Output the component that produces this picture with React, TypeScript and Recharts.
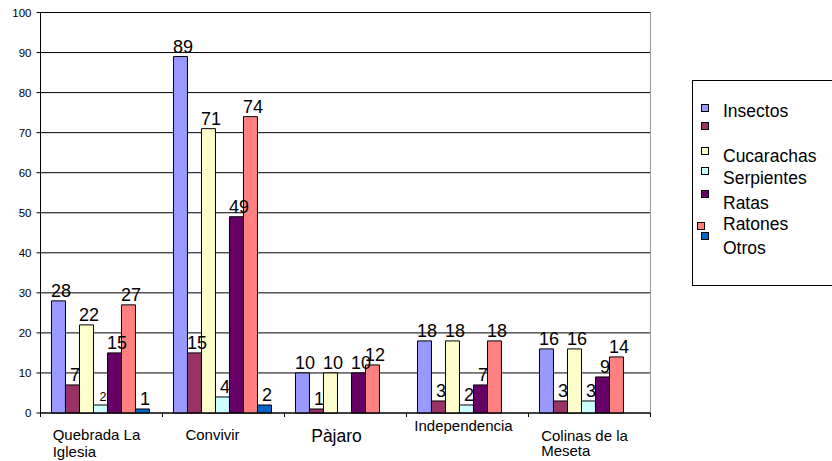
import React from "react";
import { BarChart, Bar, XAxis, YAxis, CartesianGrid, LabelList } from "recharts";

// ---------- data ----------
const categories = ["Quebrada La Iglesia", "Convivir", "Pàjaro", "Independencia", "Colinas de la Meseta"];
const seriesNames = ["Insectos", "", "Cucarachas", "Serpientes", "Ratas", "Ratones", "Otros"];
const insectos = [28, 89, 10, 18, 16];
const serie2 = [7, 15, 1, 3, 3];
const cucarachas = [22, 71, 10, 18, 16];
const serpientes = [2, 4, null, 2, 3];
const ratas = [15, 49, 10, 7, 9];
const ratones = [27, 74, 12, 18, 14];
const otros = [1, 2, null, null, null];
const yTicks = [0, 10, 20, 30, 40, 50, 60, 70, 80, 90, 100];

const seriesValues = [insectos, serie2, cucarachas, serpientes, ratas, ratones, otros];
const seriesColors = ["#9999FF", "#993366", "#FFFFCC", "#CCFFFF", "#660066", "#FF8080", "#0066CC"];

const data = categories.map((c, i) => {
  const row: any = { category: c };
  seriesValues.forEach((vals, s) => {
    row[`s${s}`] = vals[i];
  });
  return row;
});

// ---------- layout / style ----------
const FONT = '"Liberation Sans", Arial, sans-serif';
const W = 832;
const H = 461;
const M = { top: 12.5, right: 181.5, left: 0.5, bottom: 0 };
const Y_W = 40;
const X_H = 48;
const plotW = W - M.left - Y_W - M.right;
const step = plotW / categories.length;

const tickStyle: Record<string, { size: number; dx: number; dy: number; lh: number }> = {
  "Quebrada La Iglesia": { size: 15, dx: -5, dy: 26.5, lh: 17 },
  Convivir: { size: 15, dx: -11, dy: 26.5, lh: 17 },
  "Pàjaro": { size: 17.5, dx: -9, dy: 28.5, lh: 17 },
  Independencia: { size: 15, dx: -4, dy: 17.5, lh: 17 },
  "Colinas de la Meseta": { size: 15, dx: -5, dy: 27.5, lh: 15.5 },
};

// small label exceptions: series index -> category indices
const smallLabels: Record<number, number[]> = { 3: [0] };

let _ctx: CanvasRenderingContext2D | null = null;
function measure(text: string, size: number) {
  if (!_ctx) _ctx = document.createElement("canvas").getContext("2d");
  if (!_ctx) return text.length * size * 0.55;
  _ctx.font = `${size}px ${FONT}`;
  return _ctx.measureText(text).width;
}

function wrap(text: string, size: number, maxW: number) {
  const words = text.split(" ");
  const lines: string[] = [];
  let cur = "";
  words.forEach((w) => {
    const t = cur ? cur + " " + w : w;
    if (cur && measure(t, size) > maxW) {
      lines.push(cur);
      cur = w;
    } else cur = t;
  });
  if (cur) lines.push(cur);
  return lines;
}

const CategoryTick = (props: any) => {
  const { x, y, payload } = props;
  const index = props.index ?? payload.index;
  const st = tickStyle[payload.value] || { size: 15, dx: -6, dy: 26.5, lh: 17 };
  const lines = wrap(String(payload.value), st.size, 110);
  const block = Math.max(...lines.map((l) => measure(l, st.size)));
  const left = x + st.dx - block / 2;
  return (
    <g>
      <line x1={x - step / 2} x2={x - step / 2} y1={y} y2={y + 4} stroke="#000" />
      {index === categories.length - 1 && (
        <line x1={x + step / 2} x2={x + step / 2} y1={y} y2={y + 4} stroke="#000" />
      )}
      <text x={left} y={y + st.dy} fontSize={st.size} fontFamily={FONT} fill="#000" textAnchor="start">
        {lines.map((l, i) => (
          <tspan key={i} x={left} dy={i === 0 ? 0 : st.lh}>
            {l}
          </tspan>
        ))}
      </text>
    </g>
  );
};

const makeLabel = (s: number) => (props: any) => {
  const { x, y, width, value, index } = props;
  if (value == null) return null;
  const small = (smallLabels[s] || []).includes(index);
  return (
    <text
      x={x + width / 2 + 2.5}
      y={y - 4}
      textAnchor="middle"
      fontSize={small ? 12.5 : 18}
      fontFamily={FONT}
      fill="#000"
    >
      {value}
    </text>
  );
};

// legend rows layout (square centre y, text centre y, square x)
const legendRows = [
  { sq: 107, tx: 111, sx: 701 },
  { sq: 125.5, tx: 130, sx: 701 },
  { sq: 150.5, tx: 156, sx: 701 },
  { sq: 170.5, tx: 178, sx: 701 },
  { sq: 193.5, tx: 203, sx: 701 },
  { sq: 225.5, tx: 224, sx: 697 },
  { sq: 235.5, tx: 248, sx: 701 },
];

const Legend = () => (
  <svg
    width={W}
    height={H}
    style={{ position: "absolute", left: 0, top: 0, pointerEvents: "none" }}
  >
    <rect x={692.5} y={80.5} width={160} height={205} fill="#fff" stroke="#000" />
    {seriesNames.map((name, i) => {
      const r = legendRows[i];
      return (
        <g key={i}>
          <rect x={r.sx + 0.5} y={Math.round(r.sq - 3.5) + 0.5} width={7} height={7} fill={seriesColors[i]} stroke="#000" />
          {name && (
            <text x={723} y={r.tx + 6.3} fontSize={17.5} fontFamily={FONT} fill="#000">
              {name}
            </text>
          )}
        </g>
      );
    })}
  </svg>
);

export default function App() {
  return (
    <div style={{ position: "absolute", left: 0, top: 0, width: W, height: H, background: "#fff" }}>
      <BarChart
        width={W}
        height={H}
        data={data}
        margin={M}
        barCategoryGap="9%"
        barGap={0}
      >
        <CartesianGrid vertical={false} stroke="#000" />
        <CartesianGrid
          horizontal={false}
          stroke="#999"
          verticalCoordinatesGenerator={({ offset }: any) => [offset.left + offset.width]}
        />
        <XAxis
          dataKey="category"
          height={X_H}
          interval={0}
          tickSize={0}
          tickMargin={0}
          tickLine={false}
          axisLine={{ stroke: "#000" }}
          tick={<CategoryTick />}
        />
        <YAxis
          width={Y_W}
          domain={[0, 100]}
          ticks={yTicks}
          interval={0}
          tickSize={4}
          tickMargin={5}
          axisLine={{ stroke: "#000" }}
          tickLine={{ stroke: "#000" }}
          tick={{ fontSize: 11.5, fill: "#000", fontFamily: FONT }}
        />
        {seriesNames.map((name, s) => (
          <Bar
            key={s}
            dataKey={`s${s}`}
            name={name || " "}
            fill={seriesColors[s]}
            stroke="#000"
            strokeWidth={1}
            isAnimationActive={false}
          >
            <LabelList dataKey={`s${s}`} content={makeLabel(s)} />
          </Bar>
        ))}
      </BarChart>
      <Legend />
    </div>
  );
}
